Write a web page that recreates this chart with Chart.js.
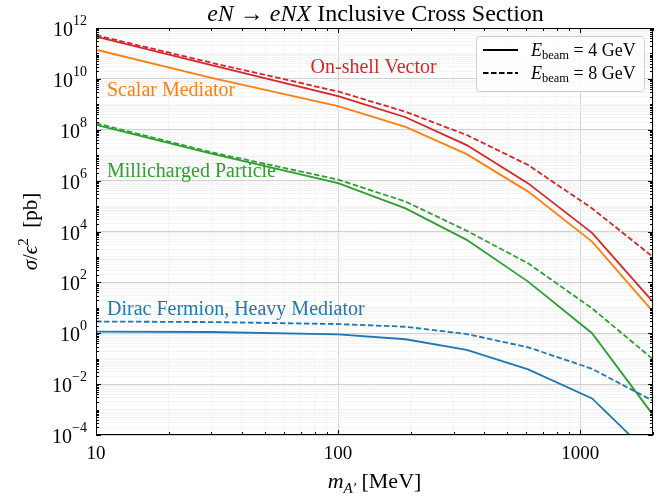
<!DOCTYPE html>
<html>
<head>
<meta charset="utf-8">
<script src="https://cdn.jsdelivr.net/npm/chart.js@4.4.1/dist/chart.umd.min.js"></script>
<style>
  body { margin: 0; background: #fff; }
  #wrap { width: 672px; height: 497px; }
</style>
</head>
<body>
<div id="wrap"><canvas id="xsecChart" width="672" height="497"></canvas></div>
<script>
// dark photon mass in MeV
const masses = [10, 30, 100, 190, 340, 610, 1120, 2000];
// sigma / eps^2 in pb (4 GeV solid, 8 GeV dashed)
const vector4 = [4.6e11, 3.5e10, 2.1e9, 3.1e8, 2.5e7, 7.8e5, 8.9e3, 17];
const vector8 = [5.2e11, 4.3e10, 3.2e9, 5.1e8, 6.2e7, 4.1e6, 8.1e4, 1.0e3];
const scalar4 = [1.4e11, 1.1e10, 8.5e8, 1.3e8, 1.1e7, 3.7e5, 4.0e3, 7.1];
const millicharged4 = [1.55e8, 1.15e7, 7.9e5, 8.1e4, 4.7e3, 107, 1.0, 6.2e-4];
const millicharged8 = [1.8e8, 1.3e7, 1.1e6, 1.5e5, 1.07e4, 560, 9.5, 0.095];
const dirac4 = [1.15, 1.12, 0.91, 0.58, 0.22, 0.038, 2.75e-3, 1.3e-5];
const dirac8 = [2.9, 2.75, 2.3, 1.8, 0.93, 0.28, 0.04, 2.2e-3];

const xTickLabels = [10, 100, 1000];
const yTickExponents = [12, 10, 8, 6, 4, 2, 0, -2, -4];

const RED = '#d62728', ORANGE = '#ff7f0e', GREEN = '#2ca02c', BLUE = '#1f77b4';
const serif = '"Liberation Serif", "Times New Roman", serif';

// grid positions: every 1..9 x 10^n
const xGrid = [];
for (let d = 10; d <= 1000; d *= 10) for (let k = 1; k <= 9; k++) if (k * d <= 2000) xGrid.push(k * d);
xGrid.push(2000);
const yGrid = [];
for (let n = -4; n < 12; n++) for (let k = 1; k <= 9; k++) yGrid.push(k * Math.pow(10, n));
yGrid.push(1e12);

function isDecade(v) {
  const l = Math.log10(v);
  return Math.abs(l - Math.round(l)) < 1e-6;
}
function isMajorY(v) {
  return isDecade(v) && Math.round(Math.log10(v)) % 2 === 0;
}
function isMajorX(v) {
  return xTickLabels.includes(Math.round(v));
}

function series(values, color, dashed) {
  return {
    data: masses.map((m, i) => ({ x: m, y: values[i] })),
    borderColor: color,
    borderWidth: 1.8,
    borderDash: dashed ? [5.5, 2.5] : [],
    pointRadius: 0,
    tension: 0,
    fill: false
  };
}

function drawParts(ctx, parts, x, y, align) {
  let w = 0;
  parts.forEach(p => { ctx.font = p.font; w += ctx.measureText(p.t).width; });
  let cx = align === 'center' ? x - w / 2 : (align === 'right' ? x - w : x);
  parts.forEach(p => {
    ctx.font = p.font;
    ctx.fillText(p.t, cx, y + (p.dy || 0));
    cx += ctx.measureText(p.t).width;
  });
}

const decorations = {
  id: 'decorations',
  afterDraw(chart) {
    const ctx = chart.ctx;
    const a = chart.chartArea;
    const xs = chart.scales.x, ys = chart.scales.y;
    ctx.save();
    ctx.textAlign = 'left';
    ctx.textBaseline = 'alphabetic';

    // spines
    ctx.strokeStyle = '#000';
    ctx.lineWidth = 1;
    ctx.strokeRect(a.left + 0.5, a.top + 0.5, a.right - a.left - 1, a.bottom - a.top - 1);

    // inward ticks on all four sides
    ctx.beginPath();
    xGrid.forEach(v => {
      const px = Math.round(xs.getPixelForValue(v)) + 0.5;
      const len = isMajorX(v) ? 5 : 3;
      ctx.moveTo(px, a.bottom); ctx.lineTo(px, a.bottom - len);
      ctx.moveTo(px, a.top); ctx.lineTo(px, a.top + len);
    });
    yGrid.forEach(v => {
      const py = Math.round(ys.getPixelForValue(v)) + 0.5;
      const len = isMajorY(v) ? 5 : 3;
      ctx.moveTo(a.left, py); ctx.lineTo(a.left + len, py);
      ctx.moveTo(a.right, py); ctx.lineTo(a.right - len, py);
    });
    ctx.stroke();

    ctx.fillStyle = '#000';
    // x tick labels
    xTickLabels.forEach(v => {
      drawParts(ctx, [{ t: String(v), font: '19px ' + serif }], xs.getPixelForValue(v), a.bottom + 24, 'center');
    });
    // y tick labels 10^n
    yTickExponents.forEach(n => {
      const py = ys.getPixelForValue(Math.pow(10, n));
      const ex = n < 0 ? '\u2212' + Math.abs(n) : String(n);
      drawParts(ctx, [
        { t: '10', font: '20px ' + serif, dy: 8 },
        { t: ex, font: '14px ' + serif, dy: -3 }
      ], a.left - 9, py, 'right');
    });

    // title
    const cxp = (a.left + a.right) / 2;
    drawParts(ctx, [
      { t: 'eN', font: 'italic 24px ' + serif },
      { t: ' \u2192 ', font: '24px ' + serif },
      { t: 'eNX', font: 'italic 24px ' + serif },
      { t: ' Inclusive Cross Section', font: '24px ' + serif }
    ], cxp + 1, 21, 'center');

    // x axis title
    drawParts(ctx, [
      { t: 'm', font: 'italic 22px ' + serif },
      { t: 'A\u2032', font: 'italic 15px ' + serif, dy: 5 },
      { t: ' [MeV]', font: '22px ' + serif }
    ], cxp, 488, 'center');

    // y axis title
    ctx.save();
    ctx.translate(37, (a.top + a.bottom) / 2);
    ctx.rotate(-Math.PI / 2);
    drawParts(ctx, [
      { t: '\u03c3', font: 'italic 21px ' + serif },
      { t: '/', font: '21px ' + serif },
      { t: '\u03f5', font: 'italic 21px ' + serif },
      { t: '2', font: '15px ' + serif, dy: -9 },
      { t: '  [pb]', font: '21px ' + serif }
    ], 0, 0, 'center');
    ctx.restore();

    // curve labels, anchored in data coordinates
    ctx.textBaseline = 'middle';
    const labels = [
      { t: 'On-shell Vector', x: 77, y: 2.7e10, c: RED },
      { t: 'Scalar Mediator', x: 11.1, y: 3.3e9, c: ORANGE },
      { t: 'Millicharged Particle', x: 11.1, y: 2.2e6, c: GREEN },
      { t: 'Dirac Fermion, Heavy Mediator', x: 11.1, y: 8.2, c: BLUE }
    ];
    labels.forEach(l => {
      ctx.fillStyle = l.c;
      drawParts(ctx, [{ t: l.t, font: '20px ' + serif }], xs.getPixelForValue(l.x), ys.getPixelForValue(l.y), 'left');
    });

    // legend
    const bx = a.right - 177, by = a.top + 8, bw = 168, bh = 55;
    ctx.beginPath();
    ctx.roundRect(bx + 0.5, by + 0.5, bw, bh, 3);
    ctx.fillStyle = 'rgba(255,255,255,0.85)';
    ctx.fill();
    ctx.strokeStyle = '#d0d0d0';
    ctx.lineWidth = 1;
    ctx.stroke();
    ctx.textBaseline = 'alphabetic';
    [['4', []], ['8', [5.5, 2.5]]].forEach((row, i) => {
      const ry = by + 14 + i * 23;
      ctx.strokeStyle = '#000';
      ctx.lineWidth = 1.8;
      ctx.setLineDash(row[1]);
      ctx.beginPath();
      ctx.moveTo(bx + 7, ry); ctx.lineTo(bx + 42, ry);
      ctx.stroke();
      ctx.setLineDash([]);
      ctx.fillStyle = '#000';
      drawParts(ctx, [
        { t: 'E', font: 'italic 18px ' + serif },
        { t: 'beam', font: '12.5px ' + serif, dy: 3 },
        { t: ' = ' + row[0] + ' GeV', font: '18px ' + serif }
      ], bx + 55, ry + 6, 'left');
    });
    ctx.restore();
  }
};

const ctx = document.getElementById('xsecChart').getContext('2d');
const chart = new Chart(ctx, {
  type: 'line',
  data: {
    datasets: [
      series(dirac8, BLUE, true),
      series(dirac4, BLUE, false),
      series(millicharged8, GREEN, true),
      series(millicharged4, GREEN, false),
      series(scalar4, ORANGE, false),
      series(vector8, RED, true),
      series(vector4, RED, false)
    ]
  },
  options: {
    responsive: false,
    animation: false,
    devicePixelRatio: 1,
    layout: { padding: { top: 28, right: 19, left: 0, bottom: 0 } },
    plugins: { legend: { display: false }, title: { display: false }, tooltip: { enabled: false } },
    scales: {
      x: {
        type: 'logarithmic', min: 10, max: 2000,
        afterBuildTicks: s => { s.ticks = xGrid.map(v => ({ value: v })); },
        afterFit: s => { s.height = 62; },
        ticks: { display: false },
        grid: {
          drawTicks: false,
          color: c => isMajorX(c.tick.value) ? '#cccccc' : '#f0f0f0',
          lineWidth: c => isMajorX(c.tick.value) ? 0.9 : 0.7
        },
        border: { display: false }
      },
      y: {
        type: 'logarithmic', min: 1e-4, max: 1e12,
        afterBuildTicks: s => { s.ticks = yGrid.map(v => ({ value: v })); },
        afterFit: s => { s.width = 96; },
        ticks: { display: false },
        grid: {
          drawTicks: false,
          color: c => isMajorY(c.tick.value) ? '#cccccc' : '#f0f0f0',
          lineWidth: c => isMajorY(c.tick.value) ? 0.9 : 0.7
        },
        border: { display: false }
      }
    }
  },
  plugins: [decorations]
});
</script>
</body>
</html>
